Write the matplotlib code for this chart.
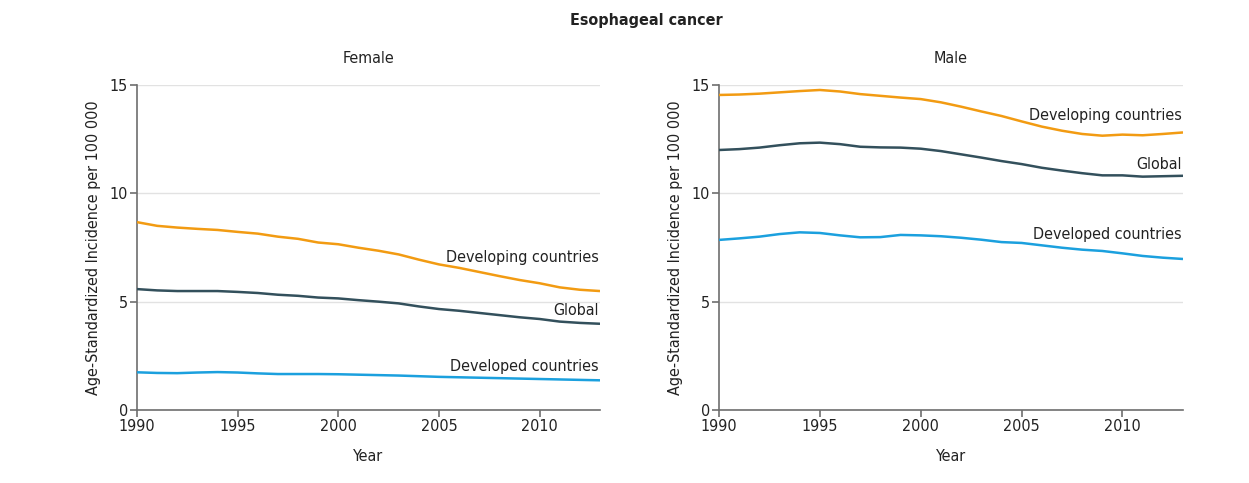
import matplotlib
matplotlib.use("Agg")
import matplotlib.pyplot as plt
from matplotlib import font_manager as fm

cond = [f for f in fm.fontManager.ttflist if f.name == 'DejaVu Sans' and f.stretch == 'condensed']
plt.rcParams['font.family'] = ['DejaVu Sans']
if cond:
    plt.rcParams['font.stretch'] = 'condensed'
    FS = 11.5
else:
    FS = 10.5

years = list(range(1990, 2014))

female_developing = [8.67, 8.50, 8.42, 8.36, 8.31, 8.22, 8.14, 8.00, 7.90, 7.73, 7.65, 7.49,
                     7.35, 7.18, 6.94, 6.72, 6.56, 6.37, 6.18, 6.00, 5.85, 5.66, 5.55, 5.49]
female_global = [5.58, 5.52, 5.49, 5.49, 5.49, 5.45, 5.40, 5.32, 5.27, 5.19, 5.15, 5.07,
                 5.00, 4.92, 4.78, 4.66, 4.58, 4.48, 4.38, 4.28, 4.20, 4.08, 4.02, 3.98]
female_developed = [1.74, 1.71, 1.70, 1.73, 1.75, 1.73, 1.69, 1.66, 1.66, 1.66, 1.65, 1.63,
                    1.61, 1.59, 1.56, 1.53, 1.51, 1.49, 1.47, 1.45, 1.43, 1.41, 1.39, 1.37]

male_developing = [14.54, 14.56, 14.60, 14.66, 14.72, 14.77, 14.70, 14.58, 14.50, 14.42, 14.35, 14.20,
                   14.00, 13.78, 13.57, 13.32, 13.08, 12.89, 12.74, 12.66, 12.71, 12.68, 12.74, 12.81]
male_global = [12.00, 12.04, 12.11, 12.22, 12.31, 12.34, 12.27, 12.15, 12.12, 12.11, 12.06, 11.95,
               11.80, 11.65, 11.49, 11.35, 11.18, 11.05, 10.93, 10.83, 10.83, 10.77, 10.79, 10.81]
male_developed = [7.85, 7.92, 8.00, 8.12, 8.20, 8.17, 8.06, 7.97, 7.98, 8.08, 8.06, 8.02,
                  7.95, 7.86, 7.75, 7.71, 7.60, 7.49, 7.40, 7.34, 7.23, 7.11, 7.03, 6.97]

series_names = ["Developing countries", "Global", "Developed countries"]
colors = ["#F29B12", "#33505C", "#1BA0DE"]
female_label_y = [7.06, 4.57, 2.03]
male_label_y = [13.61, 11.31, 8.08]

title = "Esophageal cancer"
panel_titles = ["Female", "Male"]
ylabel = "Age-Standardized Incidence per 100 000"
xlabel = "Year"
xticks = [1990, 1995, 2000, 2005, 2010]
yticks = [0, 5, 10, 15]

TXT = "#222222"
SP = "#6e6e6e"

fig = plt.figure(figsize=(12.49, 4.83), dpi=100)
axL = fig.add_axes([137/1249, 1-410/483, 463/1249, 325/483])
axR = fig.add_axes([719/1249, 1-410/483, 464/1249, 325/483])

panels = [
    (axL, [female_developing, female_global, female_developed], female_label_y, panel_titles[0]),
    (axR, [male_developing, male_global, male_developed], male_label_y, panel_titles[1]),
]

for ax, data, label_y, ptitle in panels:
    for vals, c in zip(data, colors):
        ax.plot(years, vals, color=c, lw=1.8, solid_capstyle='butt', zorder=3)
    for name, ly in zip(series_names, label_y):
        ax.text(2012.95, ly, name, ha='right', va='center', fontsize=FS, color=TXT)
    ax.set_xlim(1990, 2013)
    ax.set_ylim(0, 15)
    ax.set_xticks(xticks)
    ax.set_yticks(yticks)
    ax.grid(axis='y', color='#e2e2e2', lw=1.0, zorder=0)
    for s in ['top', 'right']:
        ax.spines[s].set_visible(False)
    for s in ['left', 'bottom']:
        ax.spines[s].set_color(SP)
        ax.spines[s].set_linewidth(1.2)
    ax.tick_params(axis='both', colors=SP, labelcolor=TXT, labelsize=FS, length=5, width=1.2, pad=1.5)
    ax.set_xlabel(xlabel, fontsize=FS, color=TXT, labelpad=11)
    ax.set_ylabel(ylabel, fontsize=FS, color=TXT, labelpad=6)
    ax.set_title(ptitle, fontsize=FS, color=TXT, pad=16)

fig.text(646/1249, 1-20/483, title, ha='center', va='center', fontsize=FS, fontweight='bold', color=TXT)

fig.savefig("out.png", dpi=100)
